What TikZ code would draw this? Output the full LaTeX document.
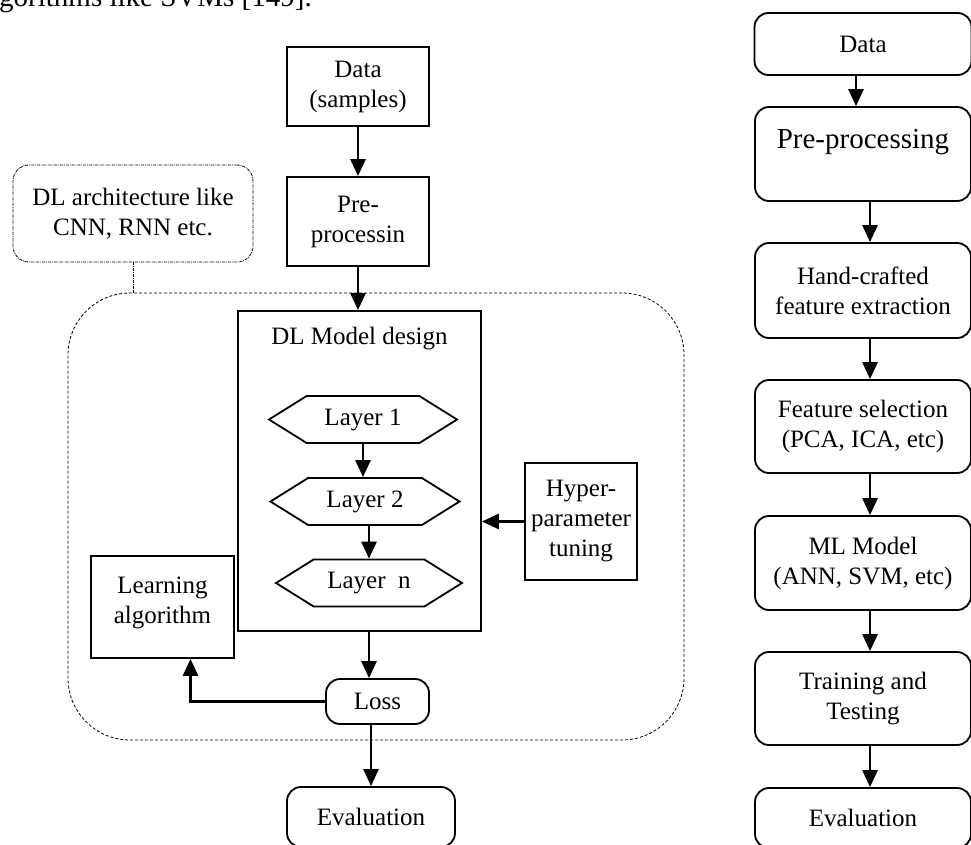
\documentclass[tikz,border=0pt]{standalone}
\usepackage{fontspec}
\setmainfont{Liberation Serif}
\usepackage{tikz}
\usetikzlibrary{positioning,arrows.meta,shapes.symbols}

\begin{document}
\begin{tikzpicture}[
  x=1pt, y=-1pt,
  font=\fontsize{25}{30}\selectfont,
  box/.style    = {draw, line width=1.8pt, rectangle, align=center, inner sep=3pt},
  rbox/.style   = {box, rounded corners=14pt},
  hexa/.style   = {draw, line width=1.8pt, signal, signal to=east and west,
                   signal pointer angle=64, inner sep=2pt, minimum height=47pt},
  dlframe/.style= {draw, line width=0.8pt, densely dashed, rounded corners=62pt},
  note/.style   = {draw, line width=0.8pt, densely dash dot, rounded corners=16pt,
                   align=center},
  arr/.style    = {-{Triangle[length=17pt,width=15pt]}, line width=2.8pt}
]
\useasboundingbox (0,0) rectangle (971,845);

% Cut line of the page text
\node[anchor=base west, inner sep=0, font=\fontsize{29}{35}\selectfont]
  (toptext) at (-1,7) {gorithms like SVMs [149].};

% Deep learning pipeline
\node[dlframe, minimum width=616pt, minimum height=447pt] (frame) at (376,516.5) {};
\node[note, minimum width=240pt, minimum height=97pt] (arch) at (133,213.5)
  {DL architecture like\\CNN, RNN etc.};
\node[box, minimum width=142pt, minimum height=79pt]  (data) at (358,86.5) {Data\\(samples)};
\node[box, minimum width=142pt, minimum height=89pt]  (pre)  at (358,221.5) {Pre-\\processin};
\node[box, minimum width=243pt, minimum height=320pt,
      label={[anchor=north,yshift=-14pt]north:DL Model design}] (dl) at (359.5,471) {};
\node[hexa, minimum width=188pt] (l1) at (363,419.5) {Layer 1};
\node[hexa, minimum width=189pt] (l2) at (365,501.5) {Layer 2};
\node[hexa, minimum width=186pt] (ln) at (369,583)   {Layer\enspace n};
\node[box, minimum width=112pt, minimum height=117pt] (hyper) at (581,521.5)
  {Hyper-\\parameter\\tuning};
\node[box, minimum width=143pt, minimum height=102pt, text depth=14pt] (learn) at (162.5,607)
  {Learning\\algorithm};
\node[rbox, minimum width=103pt, minimum height=45pt] (loss) at (377.5,701.5) {Loss};
\node[rbox, minimum width=168pt, minimum height=60pt] (eval) at (371,817) {Evaluation};

\draw[line width=0.8pt, densely dash dot] (arch.south) -- (arch.south |- frame.north);
\draw[arr] (data.south) -- (pre.north);
\draw[arr] (pre.south) -- (pre.south |- dl.north);
\draw[arr] (l1.south) -- (l1.south |- l2.north);
\draw[arr] (l2.south -| ln.south) -- (ln.north);
\draw[arr] (hyper.west) -- (hyper.west -| dl.east);
\draw[arr] (ln |- dl.south) -- (ln |- loss.north);
\draw[arr] (loss.west) -| ([xshift=28pt]learn.south);
\draw[arr] (eval |- loss.south) -- (eval.north);

% Machine learning pipeline
\node[rbox, minimum width=217pt, minimum height=62pt] (rdata)  at (863,44)    {Data};
\node[rbox, minimum width=216pt, minimum height=94pt] (rpre)   at (863,154)
  {\fontsize{29}{35}\selectfont Pre-processing\\\mbox{}};
\node[rbox, minimum width=216pt, minimum height=95pt] (rhand)  at (863,290.5)
  {Hand-crafted\\feature extraction};
\node[rbox, minimum width=216pt, minimum height=93pt] (rfeat)  at (863,426.5)
  {Feature selection\\(PCA, ICA, etc)};
\node[rbox, minimum width=216pt, minimum height=94pt] (rml)    at (863,563)
  {ML Model\\(ANN, SVM, etc)};
\node[rbox, minimum width=216pt, minimum height=93pt] (rtrain) at (863,698.5)
  {Training and\\Testing};
\node[rbox, minimum width=216pt, minimum height=60pt] (reval)  at (863,818) {Evaluation};

\draw[arr] ([xshift=-7pt]rdata.south) -- ([xshift=-7pt]rdata.south |- rpre.north);
\draw[arr] ([xshift=7pt]rpre.south)  -- ([xshift=7pt]rpre.south |- rhand.north);
\draw[arr] ([xshift=7pt]rhand.south) -- ([xshift=7pt]rhand.south |- rfeat.north);
\draw[arr] ([xshift=7pt]rfeat.south) -- ([xshift=7pt]rfeat.south |- rml.north);
\draw[arr] ([xshift=7pt]rml.south)   -- ([xshift=7pt]rml.south |- rtrain.north);
\draw[arr] ([xshift=7pt]rtrain.south) -- ([xshift=7pt]rtrain.south |- reval.north);
\end{tikzpicture}
\end{document}
